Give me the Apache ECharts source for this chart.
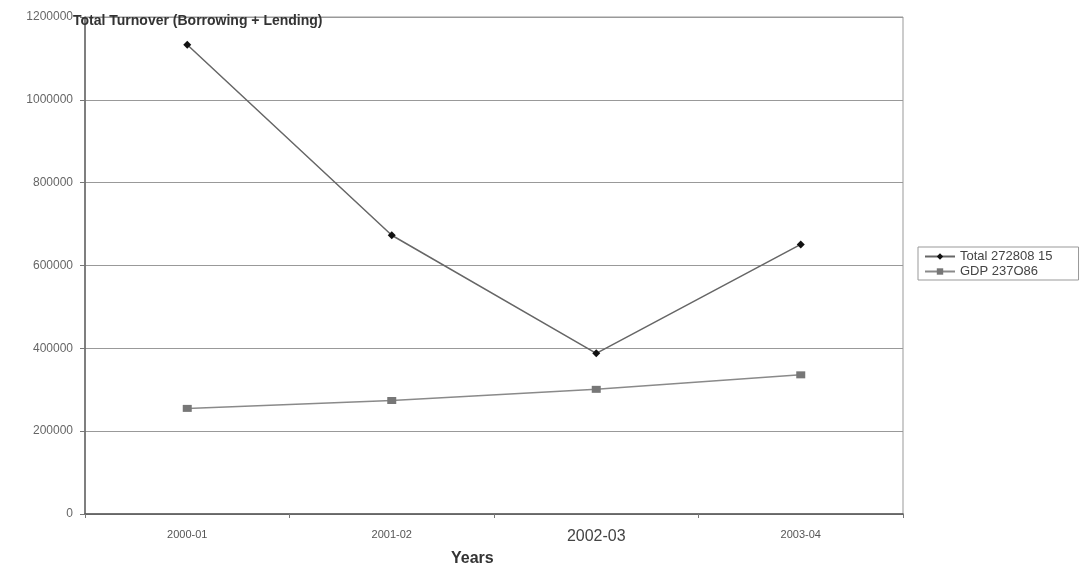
<!DOCTYPE html>
<html>
<head>
<meta charset="utf-8">
<script src="https://cdn.jsdelivr.net/npm/echarts@6/dist/echarts.min.js"></script>
<style>
  html, body { margin: 0; padding: 0; background: #fff; }
  #chart { width: 1088px; height: 573px; }
</style>
</head>
<body>
<div id="chart"></div>
<script>
// Years on the horizontal axis
const years = ['2000-01', '2001-02', '2002-03', '2003-04'];
// Total turnover (borrowing + lending)
const totalValues = [1133000, 673000, 388000, 651000];
// GDP
const gdpValues = [255000, 274000, 301000, 336000];
// Legend names
const totalName = 'Total 272808 15';
const gdpName = 'GDP 237O86';
// Value axis ticks
const yMin = 0, yMax = 1200000, yStep = 200000;

const FONT = 'Liberation Sans, Arial, sans-serif';
const chart = echarts.init(document.getElementById('chart'), null, { renderer: 'canvas' });

chart.setOption({
  animation: false,
  backgroundColor: '#ffffff',
  title: [
    {
      text: 'Total Turnover (Borrowing + Lending)',
      left: 68, top: 9,
      textStyle: { fontFamily: FONT, fontSize: 14, fontWeight: 'bold', color: '#333' }
    },
    {
      text: 'Years',
      left: 446, top: 546,
      textStyle: { fontFamily: FONT, fontSize: 16, fontWeight: 'bold', color: '#333' }
    }
  ],
  grid: {
    left: 85, right: 185, top: 17, bottom: 59,
    show: true, borderColor: '#999', borderWidth: 1, backgroundColor: 'transparent'
  },
  legend: {
    orient: 'vertical',
    left: 918, top: 247,
    padding: [3, 26, 2, 6],
    itemGap: 2,
    itemWidth: 30, itemHeight: 8,
    borderColor: '#999', borderWidth: 1,
    textStyle: { fontFamily: FONT, fontSize: 13, color: '#444' },
    data: [totalName, gdpName]
  },
  xAxis: {
    type: 'category',
    data: years,
    boundaryGap: true,
    axisLine: { lineStyle: { color: '#555', width: 1.5 } },
    axisTick: { show: true, length: 4, lineStyle: { color: '#777' } },
    axisLabel: {
      margin: 15,
      fontFamily: FONT,
      fontSize: 11,
      color: '#555',
      formatter: v => v === '2002-03' ? '{big|' + v + '}' : v,
      rich: { big: { fontSize: 16, color: '#444', fontFamily: FONT } }
    },
    splitLine: { show: false }
  },
  yAxis: {
    type: 'value',
    min: yMin, max: yMax, interval: yStep,
    axisLine: { show: true, lineStyle: { color: '#666', width: 1.5 } },
    axisTick: { show: true, length: 5, lineStyle: { color: '#777' } },
    axisLabel: {
      margin: 12,
      fontFamily: FONT,
      fontSize: 12,
      color: '#666',
      formatter: v => String(v)
    },
    splitLine: { show: true, lineStyle: { color: '#999', width: 1 } }
  },
  series: [
    {
      name: totalName,
      type: 'line',
      data: totalValues,
      symbol: 'diamond',
      symbolSize: 8,
      itemStyle: { color: '#111' },
      lineStyle: { color: '#666', width: 1.5 },
      z: 3
    },
    {
      name: gdpName,
      type: 'line',
      data: gdpValues,
      symbol: 'rect',
      symbolSize: [9, 7],
      itemStyle: { color: '#777' },
      lineStyle: { color: '#8a8a8a', width: 1.5 },
      z: 2
    }
  ]
});
</script>
</body>
</html>
